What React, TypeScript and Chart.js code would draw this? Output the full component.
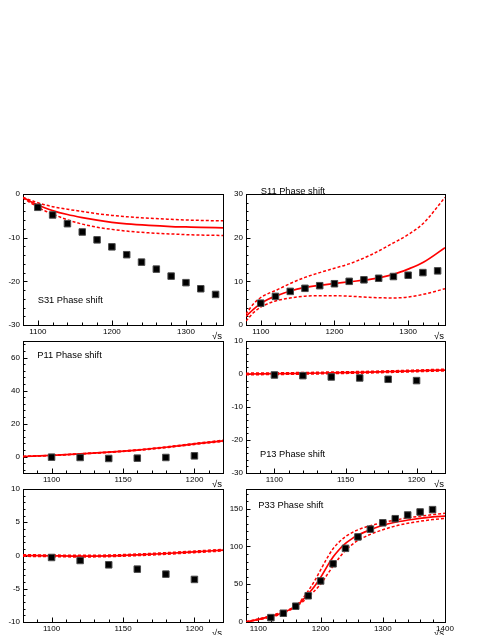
import React, { useEffect, useRef } from "react";
import { Chart, registerables } from "chart.js";

Chart.register(...registerables);

const FONT = '"Liberation Sans", Arial, Helvetica, sans-serif';

// ---------------- data ----------------
// S31
const S31_SQRT_S = [1100, 1120, 1140, 1160, 1180, 1200, 1220, 1240, 1260, 1280, 1300, 1320, 1340];
const S31_DELTA = [-3.05, -4.8, -6.8, -8.7, -10.5, -12.1, -13.9, -15.6, -17.2, -18.8, -20.3, -21.7, -23.0];
const S31_FIT_SQRT_S = [1080, 1090, 1100, 1110, 1120, 1140, 1160, 1180, 1200, 1220, 1250, 1280, 1300, 1320, 1350];
const S31_FIT = [-0.8, -1.7, -2.5, -3.2, -3.8, -4.7, -5.4, -6.0, -6.5, -6.85, -7.2, -7.45, -7.55, -7.65, -7.75];
const S31_FIT_HI = [-0.8, -1.4, -2.0, -2.5, -2.9, -3.5, -4.0, -4.5, -4.9, -5.2, -5.55, -5.8, -5.95, -6.05, -6.15];
const S31_FIT_LO = [-0.9, -2.0, -3.0, -3.9, -4.6, -5.9, -6.9, -7.6, -8.1, -8.5, -8.9, -9.15, -9.3, -9.4, -9.5];

// S11
const S11_SQRT_S = [1100, 1120, 1140, 1160, 1180, 1200, 1220, 1240, 1260, 1280, 1300, 1320, 1340];
const S11_DELTA = [5.0, 6.55, 7.7, 8.4, 9.0, 9.45, 10.0, 10.35, 10.7, 11.1, 11.4, 12.0, 12.4];
const S11_FIT_SQRT_S = [1080, 1090, 1100, 1110, 1120, 1140, 1160, 1180, 1200, 1220, 1250, 1280, 1300, 1320, 1350];
const S11_FIT = [2.0, 3.6, 4.9, 5.9, 6.6, 7.8, 8.6, 9.1, 9.5, 9.9, 10.5, 11.6, 12.8, 14.3, 17.7];
const S11_FIT_HI = [2.5, 4.8, 6.3, 7.2, 7.9, 9.5, 10.9, 12.0, 13.0, 14.0, 16.1, 18.8, 20.7, 23.2, 29.2];
const S11_FIT_LO = [0.9, 2.8, 4.1, 4.9, 5.5, 6.2, 6.6, 6.7, 6.7, 6.6, 6.3, 6.2, 6.4, 7.0, 8.3];

// P11
const P11_SQRT_S = [1100, 1120, 1140, 1160, 1180, 1200];
const P11_DELTA = [-0.4, -0.6, -1.2, -1.0, -0.6, 0.4];
const P11_FIT_SQRT_S = [1080, 1100, 1120, 1140, 1160, 1180, 1200, 1220];
const P11_FIT = [0, 0.7, 1.6, 2.6, 3.9, 5.6, 7.6, 9.5];
const P11_FIT_HI = [0, 0.75, 1.7, 2.75, 4.1, 5.85, 7.9, 9.9];
const P11_FIT_LO = [0, 0.65, 1.5, 2.45, 3.7, 5.35, 7.3, 9.1];

// P13
const P13_SQRT_S = [1100, 1120, 1140, 1160, 1180, 1200];
const P13_DELTA = [-0.3, -0.5, -0.9, -1.2, -1.6, -2.0];
const P13_FIT_SQRT_S = [1080, 1100, 1120, 1140, 1160, 1180, 1200, 1220];
const P13_FIT = [0, 0.1, 0.2, 0.35, 0.5, 0.7, 0.95, 1.2];
const P13_FIT_HI = [0.25, 0.35, 0.45, 0.6, 0.75, 0.95, 1.2, 1.45];
const P13_FIT_LO = [-0.25, -0.15, -0.05, 0.1, 0.25, 0.45, 0.7, 0.95];

// P31 (untitled panel)
const P31_SQRT_S = [1100, 1120, 1140, 1160, 1180, 1200];
const P31_DELTA = [-0.3, -0.75, -1.4, -2.05, -2.8, -3.6];
const P31_FIT_SQRT_S = [1080, 1100, 1120, 1140, 1160, 1180, 1200, 1220];
const P31_FIT = [0, -0.05, -0.1, -0.05, 0.1, 0.3, 0.55, 0.8];
const P31_FIT_HI = [0.12, 0.07, 0.02, 0.07, 0.22, 0.42, 0.67, 0.92];
const P31_FIT_LO = [-0.12, -0.17, -0.22, -0.17, -0.02, 0.18, 0.43, 0.68];

// P33
const P33_SQRT_S = [1120, 1140, 1160, 1180, 1200, 1220, 1240, 1260, 1280, 1300, 1320, 1340, 1360, 1380];
const P33_DELTA = [5.8, 11.6, 20.9, 34.7, 54.3, 77, 97.5, 112.6, 122.9, 131.3, 136.7, 141.6, 145.6, 148.7];
const P33_FIT_SQRT_S = [1080, 1100, 1120, 1140, 1160, 1170, 1180, 1190, 1200, 1210, 1220, 1230, 1240, 1250, 1260, 1280, 1300, 1320, 1350, 1380, 1400];
const P33_FIT = [0, 3.5, 7.5, 12.5, 21, 28, 37, 47, 59, 73, 86, 96, 104, 110, 115, 122, 128, 132, 136, 139, 140];
const P33_FIT_HI = [0, 3, 6.5, 11.5, 21, 30, 41, 54, 69, 84, 97, 106, 113, 118, 122, 127.5, 131.5, 135, 139, 142, 144];
const P33_FIT_LO = [0.5, 4, 8.5, 13.5, 21, 26, 33, 41, 50, 62, 74, 85, 95, 102, 108, 116, 122, 127, 132, 135.5, 137];

// tick labels
const X_TICKS_WIDE = [1100, 1200, 1300];
const X_TICKS_NARROW = [1100, 1150, 1200];
const X_TICKS_P33 = [1100, 1200, 1300, 1400];
const Y_TICKS_S31 = [-30, -20, -10, 0];
const Y_TICKS_S11 = [0, 10, 20, 30];
const Y_TICKS_P11 = [0, 20, 40, 60];
const Y_TICKS_P13 = [-30, -20, -10, 0, 10];
const Y_TICKS_P31 = [-10, -5, 0, 5, 10];
const Y_TICKS_P33 = [0, 50, 100, 150];

const X_LABEL = "√s";

// ---------------- panel layout ----------------
type Panel = {
  key: string;
  frame: [number, number, number, number]; // l, t, r, b
  xRange: [number, number];
  yRange: [number, number];
  xTicks: number[];
  yTicks: number[];
  xMinor: number;
  xMajor: number;
  yMinor: number;
  yMajor: number;
  px: number[];
  py: number[];
  fx: number[];
  fit: number[];
  hi: number[];
  lo: number[];
  title: string;
  titleAt: [number, number];
};

const PANELS: Panel[] = [
  { key: "s31", frame: [23, 194, 223, 325], xRange: [1080, 1350], yRange: [-30, 0], xTicks: X_TICKS_WIDE, yTicks: Y_TICKS_S31, xMinor: 20, xMajor: 100, yMinor: 2, yMajor: 10, px: S31_SQRT_S, py: S31_DELTA, fx: S31_FIT_SQRT_S, fit: S31_FIT, hi: S31_FIT_HI, lo: S31_FIT_LO, title: "S31 Phase shift", titleAt: [0.0735, 0.8145] },
  { key: "s11", frame: [246, 194, 445, 325], xRange: [1080, 1350], yRange: [0, 30], xTicks: X_TICKS_WIDE, yTicks: Y_TICKS_S11, xMinor: 20, xMajor: 100, yMinor: 2, yMajor: 10, px: S11_SQRT_S, py: S11_DELTA, fx: S11_FIT_SQRT_S, fit: S11_FIT, hi: S11_FIT_HI, lo: S11_FIT_LO, title: "S11 Phase shift", titleAt: [0.074, -0.018] },
  { key: "p11", frame: [23, 341, 223, 473], xRange: [1080, 1220], yRange: [-10, 70], xTicks: X_TICKS_NARROW, yTicks: Y_TICKS_P11, xMinor: 10, xMajor: 50, yMinor: 4, yMajor: 20, px: P11_SQRT_S, py: P11_DELTA, fx: P11_FIT_SQRT_S, fit: P11_FIT, hi: P11_FIT_HI, lo: P11_FIT_LO, title: "P11 Phase shift", titleAt: [0.0715, 0.111] },
  { key: "p13", frame: [246, 341, 445, 473], xRange: [1080, 1220], yRange: [-30, 10], xTicks: X_TICKS_NARROW, yTicks: Y_TICKS_P13, xMinor: 10, xMajor: 50, yMinor: 2, yMajor: 10, px: P13_SQRT_S, py: P13_DELTA, fx: P13_FIT_SQRT_S, fit: P13_FIT, hi: P13_FIT_HI, lo: P13_FIT_LO, title: "P13 Phase shift", titleAt: [0.07, 0.858] },
  { key: "p31", frame: [23, 489, 223, 622], xRange: [1080, 1220], yRange: [-10, 10], xTicks: X_TICKS_NARROW, yTicks: Y_TICKS_P31, xMinor: 10, xMajor: 50, yMinor: 1, yMajor: 5, px: P31_SQRT_S, py: P31_DELTA, fx: P31_FIT_SQRT_S, fit: P31_FIT, hi: P31_FIT_HI, lo: P31_FIT_LO, title: "", titleAt: [0, 0] },
  { key: "p33", frame: [246, 489, 445, 622], xRange: [1080, 1400], yRange: [0, 176], xTicks: X_TICKS_P33, yTicks: Y_TICKS_P33, xMinor: 20, xMajor: 100, yMinor: 10, yMajor: 50, px: P33_SQRT_S, py: P33_DELTA, fx: P33_FIT_SQRT_S, fit: P33_FIT, hi: P33_FIT_HI, lo: P33_FIT_LO, title: "P33 Phase shift", titleAt: [0.062, 0.1256] },
];

const PAD_L = 24;
const PAD_T = 10;
const PAD_R = 14;
const PAD_B = 20;

// ---------------- ROOT-style frame plugin ----------------
const rootStyle = {
  id: "rootStyle",
  beforeDatasetsDraw(chart: any, _args: any, opts: any) {
    const { ctx, chartArea: a } = chart;
    const xs = chart.scales.x;
    const ys = chart.scales.y;
    ctx.save();
    ctx.strokeStyle = "#000";
    ctx.lineWidth = 1;
    ctx.beginPath();
    const nX = Math.round((xs.max - xs.min) / opts.xMinor);
    const x0 = Math.ceil(xs.min / opts.xMinor) * opts.xMinor;
    for (let k = 0; k <= nX; k++) {
      const v = x0 + k * opts.xMinor;
      if (v <= xs.min || v >= xs.max) continue;
      const isMajor = Math.abs(v / opts.xMajor - Math.round(v / opts.xMajor)) < 1e-6;
      const len = isMajor ? 4.5 : 2.5;
      const p = Math.round(xs.getPixelForValue(v)) + 0.5;
      ctx.moveTo(p, a.bottom);
      ctx.lineTo(p, a.bottom - len);
    }
    const nY = Math.round((ys.max - ys.min) / opts.yMinor);
    const y0 = Math.ceil(ys.min / opts.yMinor) * opts.yMinor;
    for (let k = 0; k <= nY; k++) {
      const v = y0 + k * opts.yMinor;
      if (v <= ys.min || v >= ys.max) continue;
      const isMajor = Math.abs(v / opts.yMajor - Math.round(v / opts.yMajor)) < 1e-6;
      const len = isMajor ? 4.5 : 2.5;
      const p = Math.round(ys.getPixelForValue(v)) + 0.5;
      ctx.moveTo(a.left, p);
      ctx.lineTo(a.left + len, p);
    }
    ctx.stroke();
    ctx.strokeRect(Math.round(a.left) + 0.5, Math.round(a.top) + 0.5, Math.round(a.right - a.left), Math.round(a.bottom - a.top));
    ctx.restore();
  },
  afterDraw(chart: any, _args: any, opts: any) {
    const { ctx, chartArea: a } = chart;
    ctx.save();
    ctx.fillStyle = "#000";
    ctx.textBaseline = "middle";
    if (opts.title) {
      ctx.font = `9.3px ${FONT}`;
      ctx.textAlign = "left";
      ctx.fillText(opts.title, a.left + opts.titleAt[0] * (a.right - a.left), a.top + opts.titleAt[1] * (a.bottom - a.top));
    }
    ctx.font = `9.5px ${FONT}`;
    ctx.textAlign = "right";
    ctx.fillText(opts.xLabel, a.right - 1, a.bottom + 11);
    ctx.restore();
  },
};

function PanelChart({ p }: { p: Panel }) {
  const ref = useRef<HTMLCanvasElement | null>(null);
  const [l, t, r, b] = p.frame;
  const w = r - l + PAD_L + PAD_R;
  const h = b - t + PAD_T + PAD_B;

  useEffect(() => {
    if (!ref.current) return;
    const pts = p.px.map((x, i) => ({ x, y: p.py[i] }));
    const fit = p.fx.map((x, i) => ({ x, y: p.fit[i] }));
    const hi = p.fx.map((x, i) => ({ x, y: p.hi[i] }));
    const lo = p.fx.map((x, i) => ({ x, y: p.lo[i] }));
    const tickFont = { family: FONT, size: 8 };
    const chart = new Chart(ref.current, {
      type: "line",
      data: {
        datasets: [
          {
            label: "data",
            data: pts,
            showLine: false,
            pointStyle: "rect",
            pointRadius: 4.6,
            pointBackgroundColor: "#000",
            pointBorderColor: "#4a4a4a",
            pointBorderWidth: 1,
          },
          {
            label: "fit",
            data: fit,
            borderColor: "#ff0000",
            borderWidth: 1.7,
            pointRadius: 0,
            cubicInterpolationMode: "monotone",
          },
          {
            label: "fit upper",
            data: hi,
            borderColor: "#ff0000",
            borderWidth: 1.5,
            borderDash: [3, 2],
            pointRadius: 0,
            cubicInterpolationMode: "monotone",
          },
          {
            label: "fit lower",
            data: lo,
            borderColor: "#ff0000",
            borderWidth: 1.5,
            borderDash: [3, 2],
            pointRadius: 0,
            cubicInterpolationMode: "monotone",
          },
        ],
      } as any,
      options: {
        animation: false,
        responsive: false,
        devicePixelRatio: 1,
        events: [],
        layout: { padding: { left: 0, top: PAD_T, right: PAD_R, bottom: 0 } },
        plugins: {
          legend: { display: false },
          tooltip: { enabled: false },
          rootStyle: {
            xMinor: p.xMinor,
            xMajor: p.xMajor,
            yMinor: p.yMinor,
            yMajor: p.yMajor,
            title: p.title,
            titleAt: p.titleAt,
            xLabel: X_LABEL,
          },
        } as any,
        scales: {
          x: {
            type: "linear",
            min: p.xRange[0],
            max: p.xRange[1],
            grid: { display: false, drawTicks: false },
            border: { display: false },
            afterBuildTicks: (s: any) => {
              s.ticks = p.xTicks.map((v) => ({ value: v }));
            },
            afterFit: (s: any) => {
              s.height = PAD_B;
            },
            ticks: {
              autoSkip: false,
              maxRotation: 0,
              minRotation: 0,
              padding: 1.5,
              color: "#000",
              font: tickFont,
              callback: (v: any) => String(v),
            },
          },
          y: {
            type: "linear",
            min: p.yRange[0],
            max: p.yRange[1],
            grid: { display: false, drawTicks: false },
            border: { display: false },
            afterBuildTicks: (s: any) => {
              s.ticks = p.yTicks.map((v) => ({ value: v }));
            },
            afterFit: (s: any) => {
              s.width = PAD_L;
            },
            ticks: {
              autoSkip: false,
              padding: 3,
              color: "#000",
              font: tickFont,
              callback: (v: any) => String(v),
            },
          },
        },
      } as any,
      plugins: [rootStyle],
    });
    return () => chart.destroy();
  }, [p]);

  return (
    <canvas
      ref={ref}
      width={w}
      height={h}
      style={{ position: "absolute", left: l - PAD_L, top: t - PAD_T, width: w, height: h }}
    />
  );
}

export default function App() {
  return (
    <div
      style={{
        position: "absolute",
        left: 0,
        top: 0,
        width: 491,
        height: 635,
        overflow: "hidden",
        background: "#fff",
      }}
    >
      {PANELS.map((p) => (
        <PanelChart key={p.key} p={p} />
      ))}
    </div>
  );
}
